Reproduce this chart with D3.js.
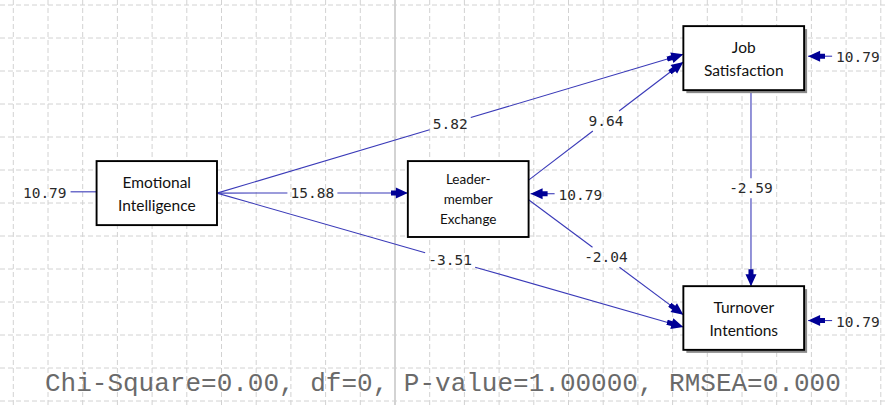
<!DOCTYPE html>
<html>
  <head>
    <meta charset="utf-8" />
    <script src="https://d3js.org/d3.v7.min.js"></script>
    <style>
      body { margin: 0; background: #fff; }
    </style>
  </head>
  <body>
    <div id="chart"></div>
    <script>
      // model data
      var nodeIds = ['EI', 'LMX', 'JS', 'TI'];
      var nodeLabels = [
        ['Emotional', 'Intelligence'],
        ['Leader-', 'member', 'Exchange'],
        ['Job', 'Satisfaction'],
        ['Turnover', 'Intentions'],
      ];
      var errorVar = [10.79, 10.79, 10.79, 10.79];
      var pathFrom = ['EI', 'EI', 'EI', 'LMX', 'LMX', 'JS'];
      var pathTo = ['LMX', 'JS', 'TI', 'JS', 'TI', 'TI'];
      var pathCoef = [15.88, 5.82, -3.51, 9.64, -2.04, -2.59];
      var fitText = 'Chi-Square=0.00, df=0, P-value=1.00000, RMSEA=0.000';

      // layout in grid units (x0, x1, y0, y1)
      var boxes = {
        EI: { x0: 2.4, x1: 5.87, y0: 4.73, y1: 6.67, shadow: false, size: 15.5, lh: 23 },
        LMX: { x0: 11.37, x1: 14.85, y0: 4.73, y1: 7.03, shadow: false, size: 13.5, lh: 19.6 },
        JS: { x0: 19.31, x1: 22.79, y0: 0.64, y1: 2.58, shadow: true, size: 15.5, lh: 23 },
        TI: { x0: 19.31, x1: 22.79, y0: 8.52, y1: 10.45, shadow: true, size: 15.5, lh: 23 },
      };
      // where each path leaves / enters a box: [side, fraction along side]
      var ports = [
        [['r', 0.5], ['l', 0.42]],
        [['r', 0.5], ['l', 0.44]],
        [['r', 0.5], ['l', 0.64]],
        [['r', 0.25], ['l', 0.56]],
        [['r', 0.51], ['l', 0.45]],
        [['b', 0.56], ['t', 0.56]],
      ];
      var errorPorts = [['l', 0.48], ['r', 0.43], ['r', 0.47], ['r', 0.54]];

      var width = 885,
        height = 405;

      var x = d3.scaleLinear().domain([0, 25]).range([13.3, 880.8]);
      var y = d3.scaleLinear().domain([0, 12]).range([5, 401]);

      var svg = d3
        .select('#chart')
        .append('svg')
        .attr('width', width)
        .attr('height', height);

      // grid
      var grid = svg.append('g');
      grid
        .selectAll('.vx')
        .data(d3.range(0, 26))
        .join('line')
        .attr('x1', (d) => x(d))
        .attr('x2', (d) => x(d))
        .attr('y1', 0)
        .attr('y2', height)
        .attr('stroke', (d) => (d === 11 ? '#c8c8c8' : '#d2d2d2'))
        .attr('stroke-width', (d) => (d === 11 ? 1.6 : 1))
        .attr('stroke-dasharray', (d) => (d === 11 ? null : '5,3'));
      grid
        .selectAll('.hy')
        .data(d3.range(0, 13))
        .join('line')
        .attr('x1', 0)
        .attr('x2', width)
        .attr('y1', (d) => y(d))
        .attr('y2', (d) => y(d))
        .attr('stroke', '#d2d2d2')
        .attr('stroke-dasharray', '5,3');

      // arrow marker
      var defs = svg.append('defs');
      defs
        .append('marker')
        .attr('id', 'arrow')
        .attr('markerUnits', 'userSpaceOnUse')
        .attr('viewBox', '0 -7 18 14')
        .attr('refX', 17)
        .attr('refY', 0)
        .attr('markerWidth', 18)
        .attr('markerHeight', 14)
        .attr('orient', 'auto')
        .append('path')
        .attr('d', 'M0,-2.5 L5,-2.5 L5,-5.5 L17,0 L5,5.5 L5,2.5 L0,2.5 Z')
        .attr('fill', '#000096');

      function boxPx(id) {
        var b = boxes[id];
        return { x0: x(b.x0), x1: x(b.x1), y0: y(b.y0), y1: y(b.y1) };
      }

      function portPoint(id, port) {
        var b = boxPx(id);
        var side = port[0],
          f = port[1];
        if (side === 'l') return [b.x0, b.y0 + f * (b.y1 - b.y0)];
        if (side === 'r') return [b.x1, b.y0 + f * (b.y1 - b.y0)];
        if (side === 't') return [b.x0 + f * (b.x1 - b.x0), b.y0];
        return [b.x0 + f * (b.x1 - b.x0), b.y1];
      }

      var lineColor = '#3a3ab8';
      var monoFont = "'DejaVu Sans Mono', monospace";

      // structural paths
      var paths = pathCoef.map(function (c, i) {
        return {
          a: portPoint(pathFrom[i], ports[i][0]),
          b: portPoint(pathTo[i], ports[i][1]),
          coef: c,
        };
      });

      var edges = svg.append('g');
      paths.forEach(function (p) {
        var dx = p.b[0] - p.a[0],
          dy = p.b[1] - p.a[1];
        var len = Math.sqrt(dx * dx + dy * dy);
        var ux = dx / len,
          uy = dy / len;
        var mx = (p.a[0] + p.b[0]) / 2,
          my = (p.a[1] + p.b[1]) / 2;
        var label = p.coef.toFixed(2);
        var hw = (label.length * 8.8) / 2 + 3,
          hh = 10;
        // break the line around the label
        var t = Math.min(
          Math.abs(ux) > 1e-6 ? hw / Math.abs(ux) : Infinity,
          Math.abs(uy) > 1e-6 ? hh / Math.abs(uy) : Infinity
        );
        edges
          .append('line')
          .attr('x1', p.a[0])
          .attr('y1', p.a[1])
          .attr('x2', mx - ux * t)
          .attr('y2', my - uy * t)
          .attr('stroke', lineColor)
          .attr('stroke-width', 1.1);
        edges
          .append('line')
          .attr('x1', mx + ux * t)
          .attr('y1', my + uy * t)
          .attr('x2', p.b[0])
          .attr('y2', p.b[1])
          .attr('stroke', lineColor)
          .attr('stroke-width', 1.1)
          .attr('marker-end', 'url(#arrow)');
        edges
          .append('text')
          .attr('x', mx)
          .attr('y', my)
          .attr('text-anchor', 'middle')
          .attr('dominant-baseline', 'central')
          .style('font-family', monoFont)
          .style('font-size', '14.5px')
          .style('fill', '#2a2a2a')
          .text(label);
      });

      // error variances
      nodeIds.forEach(function (id, i) {
        var pt = portPoint(id, errorPorts[i]);
        var dir = errorPorts[i][0] === 'l' ? -1 : 1;
        var gap = boxes[id].shadow ? 4 : id === 'EI' ? 0 : 2;
        var start = pt[0] + dir * gap;
        var end = start + dir * (id === 'EI' ? 26 : 24);
        var ln = edges
          .append('line')
          .attr('x1', end)
          .attr('y1', pt[1])
          .attr('x2', start)
          .attr('y2', pt[1])
          .attr('stroke', lineColor)
          .attr('stroke-width', 1.1);
        if (id !== 'EI') ln.attr('marker-end', 'url(#arrow)');
        edges
          .append('text')
          .attr('x', end + dir * 4)
          .attr('y', pt[1] + 1)
          .attr('text-anchor', dir < 0 ? 'end' : 'start')
          .attr('dominant-baseline', 'central')
          .style('font-family', monoFont)
          .style('font-size', '14.5px')
          .style('fill', '#2a2a2a')
          .text(errorVar[i].toFixed(2));
      });

      // boxes
      var nodeG = svg
        .append('g')
        .selectAll('g')
        .data(nodeIds)
        .join('g');

      nodeG
        .filter((d) => boxes[d].shadow)
        .append('rect')
        .attr('x', (d) => boxPx(d).x0 + 3)
        .attr('y', (d) => boxPx(d).y0 + 3)
        .attr('width', (d) => boxPx(d).x1 - boxPx(d).x0)
        .attr('height', (d) => boxPx(d).y1 - boxPx(d).y0)
        .attr('fill', '#8a8a8a');

      nodeG
        .append('rect')
        .attr('x', (d) => boxPx(d).x0)
        .attr('y', (d) => boxPx(d).y0)
        .attr('width', (d) => boxPx(d).x1 - boxPx(d).x0)
        .attr('height', (d) => boxPx(d).y1 - boxPx(d).y0)
        .attr('fill', '#fff')
        .attr('stroke', '#000')
        .attr('stroke-width', 1.9);

      nodeG.each(function (d, i) {
        var b = boxPx(d);
        var lines = nodeLabels[i];
        var size = boxes[d].size;
        var lh = boxes[d].lh;
        var cx = (b.x0 + b.x1) / 2,
          cy = (b.y0 + b.y1) / 2;
        d3.select(this)
          .selectAll('text')
          .data(lines)
          .join('text')
          .attr('x', cx)
          .attr('y', (t, k) => cy + (k - (lines.length - 1) / 2) * lh)
          .attr('text-anchor', 'middle')
          .attr('dominant-baseline', 'central')
          .style('font-family', 'Lato, sans-serif')
          .style('font-size', size + 'px')
          .style('fill', '#111')
          .text((t) => t);
      });

      // fit statistics
      svg
        .append('text')
        .attr('x', 45)
        .attr('y', 391)
        .style('font-family', "'Courier New', 'Liberation Mono', monospace")
        .style('font-size', '26px')
        .style('fill', '#6a6a6a')
        .text(fitText);
    </script>
  </body>
</html>
